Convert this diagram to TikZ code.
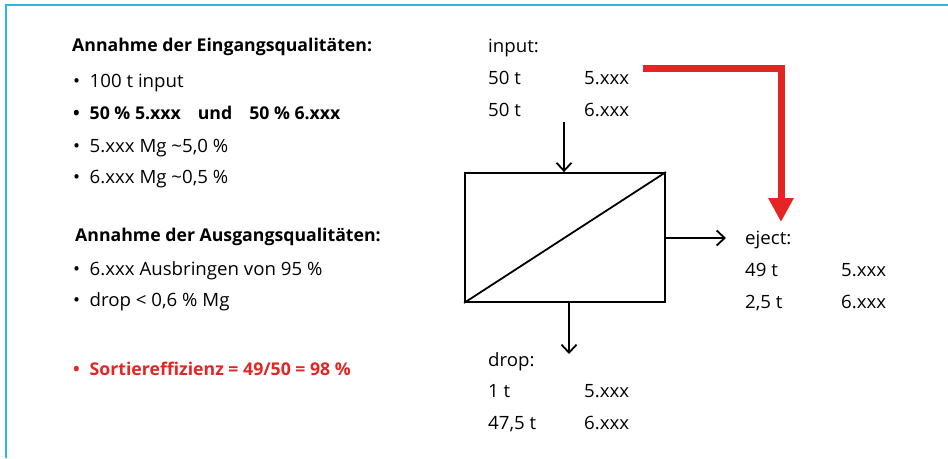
\documentclass[tikz,border=0pt]{standalone}
\usepackage{fontspec}
\setmainfont{Open Sans}
\newfontfamily\regfont{Open Sans}[FakeStretch=1.02]
\newfontfamily\boldfont{Open Sans}[FakeStretch=1.005]
\usepackage{xcolor}
\usetikzlibrary{positioning,arrows.meta}

\definecolor{framecol}{RGB}{40,185,220}
\definecolor{redcol}{RGB}{228,37,36}
\newcommand{\fsz}{\regfont\fontsize{18.3}{21}\selectfont}
\newcommand{\fszb}{\boldfont\fontsize{17.6}{21}\selectfont\bfseries}
\newcommand{\bul}{\makebox[16.5pt][l]{•}}

\begin{document}
\begin{tikzpicture}[
  x=1pt, y=-1pt,
  txt/.style={anchor=base west, inner sep=0pt, font=\fsz},
  hd/.style={txt, font=\fszb},
  hot/.style={txt, font=\fszb, text=redcol},
  frame/.style={draw=framecol, line width=1.8pt},
  sorter/.style={draw=black, line width=1.8pt, minimum width=200pt, minimum height=129pt, inner sep=0pt},
  flow/.style={draw, line width=1.8pt, -{Straight Barb[length=8pt, width=15pt, line width=1.8pt]}},
  redflow/.style={draw=redcol, line width=7pt, -{Triangle[length=24pt, width=24pt]}}
]
\useasboundingbox (0,0) rectangle (948,458);

% frame
\draw[frame] (6,458) -- (6,5) -- (948,5);

% left column
\node[hd]  (inhead)  at (72,51)  {Annahme der Eingangsqualitäten:};
\node[txt] (inA)     at (73,87)  {\bul 100 t input};
\node[hd]  (inB)     at (73,119) {\bul 50 \% 5.xxx\hspace{17pt}und\hspace{17pt}50 \% 6.xxx};
\node[txt] (inC)     at (73,152) {\bul 5.xxx Mg \textasciitilde5,0 \%};
\node[txt] (inD)     at (73,183) {\bul 6.xxx Mg \textasciitilde0,5 \%};

\node[hd]  (outhead) at (75,241) {Annahme der Ausgangsqualitäten:};
\node[txt] (outA)    at (73,275) {\bul 6.xxx Ausbringen von 95 \%};
\node[txt] (outB)    at (73,306) {\bul drop < 0,6 \% Mg};

\node[hot] (eff)     at (73,375) {\bul Sortiereffizienz = 49/50 = 98 \%};

% sorter
\node[sorter] (box) at (565,237.5) {};
\draw[line width=1.8pt] (box.south west) -- (box.north east);

% input
\node[txt] (input)  at (488,52)  {input:};
\node[txt] (inw1)   at (488,84)  {50 t};
\node[txt] (ing1)   at (584,84)  {5.xxx};
\node[txt] (inw2)   at (488,116) {50 t};
\node[txt] (ing2)   at (584,116) {6.xxx};
\coordinate (feed) at (564,122);
\draw[flow] (feed) -- (feed |- box.north);

% eject
\node[txt] (eject)  at (745,244) {eject:};
\node[txt] (ejw1)   at (745,276) {49 t};
\node[txt] (ejg1)   at (841,276) {5.xxx};
\node[txt] (ejw2)   at (745,308) {2,5 t};
\node[txt] (ejg2)   at (841,308) {6.xxx};
\coordinate (ejend) at (726,238);
\draw[flow] (box.east |- ejend) -- (ejend);

% drop
\node[txt] (drop)   at (488,366) {drop:};
\node[txt] (drw1)   at (488,397) {1 t};
\node[txt] (drg1)   at (584,397) {5.xxx};
\node[txt] (drw2)   at (488,429) {47,5 t};
\node[txt] (drg2)   at (584,429) {6.xxx};
\coordinate (drend) at (569,354);
\draw[flow] (drend |- box.south) -- (drend);

% red path
\coordinate (rstart) at (643,68);
\coordinate (rcorner) at (781,68);
\coordinate (rend) at (781,222);
\draw[redflow] (rstart) -- (rcorner) -- (rend);

\end{tikzpicture}
\end{document}
